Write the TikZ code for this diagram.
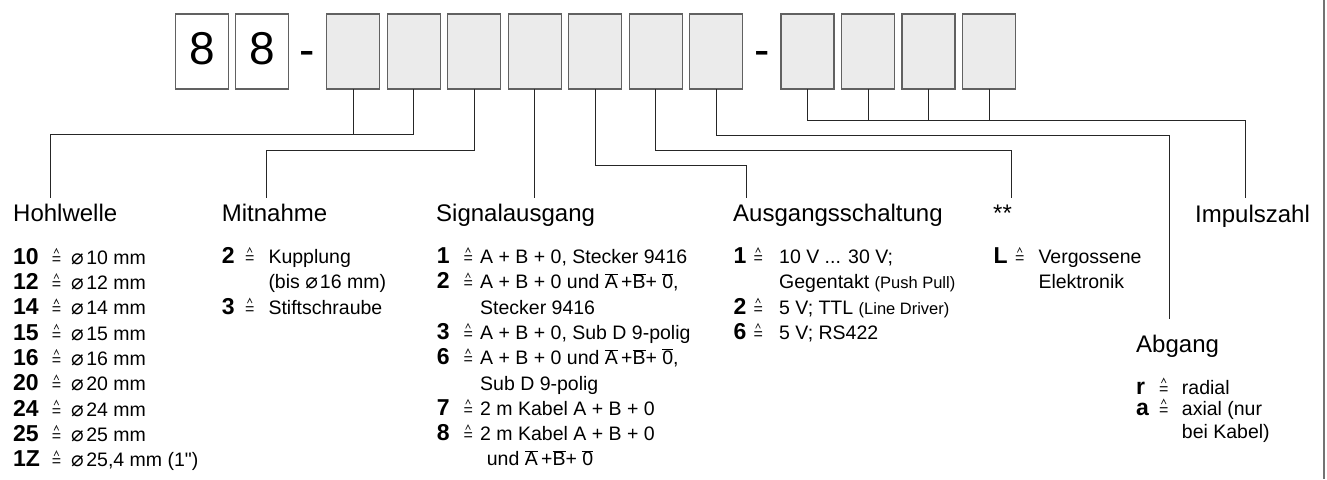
\documentclass[tikz,border=0pt]{standalone}
\usepackage{fontspec}
\setmainfont{Liberation Sans}[Ligatures=TeXOff]
\newfontfamily\symfont{DejaVu Sans}
\usetikzlibrary{calc}

% diameter sign
\newcommand{\dia}{{\symfont\fontsize{21}{21}\selectfont ⌀}}
% inverted signal
\newcommand{\ovl}[1]{\ensuremath{\overline{\mbox{#1}}}}
% one keyed entry: name, x key, x sign, x text, baseline, key, text;
% the sign is an equals sign with a small hat drawn above it
\newcommand{\keyrow}[7]{%
  \node[key] (#1-k) at (#2,#5) {#6};
  \node[eqs] (#1-e) at (#3,#5) {=};
  \draw[hat] ($(#1-e.base west)+(2.4,-11)$) -- ++(2.3,-4.6) -- ++(2.3,4.6);
  \node[item] (#1-t) at (#4,#5) {#7};}

\begin{document}
\begin{tikzpicture}[x=1pt,y=-1pt,
  frame/.style={draw=black!62, line width=1.3pt, minimum width=53pt, minimum height=75pt, inner sep=0pt, outer sep=0pt},
  digitbox/.style={frame, fill=white, text depth=6pt, font=\fontsize{46}{46}\selectfont},
  slot/.style={frame, fill=black!8},
  sepmark/.style={anchor=base, inner sep=0pt, font=\fontsize{46}{46}\selectfont},
  wire/.style={draw=black!85, line width=1pt},
  hat/.style={draw=black!85, line width=0.8pt},
  head/.style={anchor=base west, inner sep=0pt, font=\fontsize{24}{24}\selectfont},
  item/.style={anchor=base west, inner sep=0pt, font=\fontsize{19.5}{19.5}\selectfont},
  key/.style={anchor=base west, inner sep=0pt, font=\fontsize{23}{23}\selectfont\bfseries},
  eqs/.style={anchor=base west, inner sep=0pt, font=\fontsize{16}{16}\selectfont}]
\useasboundingbox (0,0) rectangle (1327,479);

% right frame edge
\coordinate (edgeT) at (1324.3,0);
\coordinate (edgeB) at (1324.3,479);
\draw[draw=black!55, line width=2pt] (edgeT) -- (edgeB);

% type code boxes
\node[digitbox] (d1) at (202.2,51.5) {8};
\node[digitbox] (d2) at (262.2,51.5) {8};
\node[sepmark] (s1) at (307.5,65) {-};
\node[slot] (g1) at (353.3,51.5) {};
\node[slot] (g2) at (413.8,51.5) {};
\node[slot] (g3) at (474.3,51.5) {};
\node[slot] (g4) at (534.8,51.5) {};
\node[slot] (g5) at (595.3,51.5) {};
\node[slot] (g6) at (655.8,51.5) {};
\node[slot] (g7) at (716.3,51.5) {};
\node[sepmark] (s2) at (762,65) {-};
\node[slot] (h1) at (807.5,51.5) {};
\node[slot] (h2) at (868,51.5) {};
\node[slot] (h3) at (928.5,51.5) {};
\node[slot] (h4) at (989,51.5) {};

% leader lines
\coordinate (hohlK) at (50.7,134);   \coordinate (hohlE) at (50.7,198);
\coordinate (mitK) at (266.7,150);   \coordinate (mitE) at (266.7,198);
\coordinate (sigE) at (534.8,198);
\coordinate (ausK) at (746.7,165);   \coordinate (ausE) at (746.7,198);
\coordinate (starK) at (1011.5,150); \coordinate (starE) at (1011.5,198);
\coordinate (abgK) at (1169,135);    \coordinate (abgE) at (1169,319);
\coordinate (impK) at (1245,120);    \coordinate (impE) at (1245,198);

\draw[wire] (g2.south) |- (hohlK) -- (hohlE);
\draw[wire] (g1.south) -- (g1.south |- hohlK);
\draw[wire] (g3.south) |- (mitK) -- (mitE);
\draw[wire] (g4.south) -- (sigE);
\draw[wire] (g5.south) |- (ausK) -- (ausE);
\draw[wire] (g6.south) |- (starK) -- (starE);
\draw[wire] (g7.south) |- (abgK) -- (abgE);
\draw[wire] (h1.south) |- (impK) -- (impE);
\foreach \b in {h2,h3,h4} \draw[wire] (\b.south) -- (\b.south |- impK);

% Hohlwelle
\node[head] (tHohl) at (13,221) {Hohlwelle};
\keyrow{hw1}{13}{51.7}{71}{264.3}{10}{\dia\hspace{2.5pt}10 mm}
\keyrow{hw2}{13}{51.7}{71}{289.6}{12}{\dia\hspace{2.5pt}12 mm}
\keyrow{hw3}{13}{51.7}{71}{314.9}{14}{\dia\hspace{2.5pt}14 mm}
\keyrow{hw4}{13}{51.7}{71}{340.2}{15}{\dia\hspace{2.5pt}15 mm}
\keyrow{hw5}{13}{51.7}{71}{365.5}{16}{\dia\hspace{2.5pt}16 mm}
\keyrow{hw6}{13}{51.7}{71}{390.8}{20}{\dia\hspace{2.5pt}20 mm}
\keyrow{hw7}{13}{51.7}{71}{416.1}{24}{\dia\hspace{2.5pt}24 mm}
\keyrow{hw8}{13}{51.7}{71}{441.4}{25}{\dia\hspace{2.5pt}25 mm}
\keyrow{hw9}{13}{51.7}{71}{466.7}{1Z}{\dia\hspace{2.5pt}25,4 mm (1")}

% Mitnahme
\node[head] (tMit) at (221.7,221) {Mitnahme};
\keyrow{mn1}{221.7}{245}{268.3}{263.5}{2}{Kupplung}
\node[item] (mn1b) at (268.3,288.8) {(bis \dia\hspace{2pt}16 mm)};
\keyrow{mn2}{221.7}{245}{268.3}{314.1}{3}{Stiftschraube}

% Signalausgang
\node[head] (tSig) at (436,221) {Signalausgang};
\keyrow{sa1}{436.7}{463.3}{480}{263.5}{1}{A + B + 0, Stecker 9416}
\keyrow{sa2}{436.7}{463.3}{480}{288.8}{2}{A + B + 0 und \ovl{A}\,+\ovl{B}+ \ovl{0},}
\node[item] (sa2b) at (480,314.1) {Stecker 9416};
\keyrow{sa3}{436.7}{463.3}{480}{339.4}{3}{A + B + 0, Sub D 9-polig}
\keyrow{sa6}{436.7}{463.3}{480}{364.7}{6}{A + B + 0 und \ovl{A}\,+\ovl{B}+ \ovl{0},}
\node[item] (sa6b) at (480,390) {Sub D 9-polig};
\keyrow{sa7}{436.7}{463.3}{480}{415.3}{7}{2 m Kabel A + B + 0}
\keyrow{sa8}{436.7}{463.3}{480}{440.6}{8}{2 m Kabel A + B + 0}
\node[item] (sa8b) at (486.7,465.9) {und \ovl{A}\,+\ovl{B}+ \ovl{0}};

% Ausgangsschaltung
\node[head] (tAus) at (733,221) {Ausgangsschaltung};
\keyrow{as1}{733.3}{753.3}{779}{263.5}{1}{10 V ... 30 V;}
\node[item] (as1b) at (779,288.8) {Gegentakt {\fontsize{16.5}{16.5}\selectfont(Push Pull)}};
\keyrow{as2}{733.3}{753.3}{779}{314.1}{2}{5 V; TTL {\fontsize{16.5}{16.5}\selectfont(Line Driver)}}
\keyrow{as6}{733.3}{753.3}{779}{339.4}{6}{5 V; RS422}

% **
\node[head] (tStar) at (993,221) {**};
\keyrow{st1}{993.3}{1015}{1038.3}{263.5}{L}{Vergossene}
\node[item] (st1b) at (1038.3,288.8) {Elektronik};

% Abgang
\node[head] (tAbg) at (1136,352) {Abgang};
\keyrow{ab1}{1136}{1159}{1181.7}{394}{r}{radial}
\keyrow{ab2}{1136}{1159}{1181.7}{415}{a}{axial (nur}
\node[item] (ab2b) at (1181.7,438.5) {bei Kabel)};

% Impulszahl
\node[head] (tImp) at (1195,222) {Impulszahl};
\end{tikzpicture}
\end{document}
